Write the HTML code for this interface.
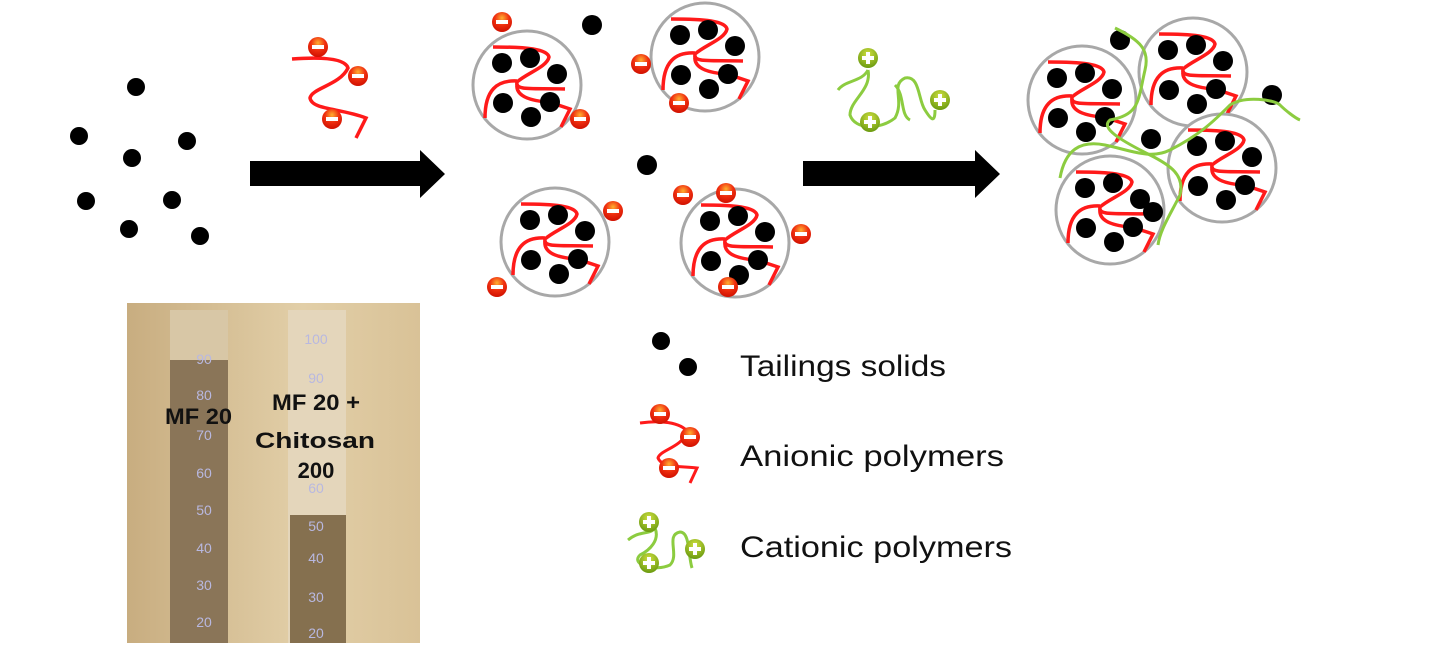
<!DOCTYPE html>
<html><head><meta charset="utf-8"><style>
html,body{margin:0;padding:0;background:#fff;width:1444px;height:659px;overflow:hidden}
</style></head><body>
<svg width="1444" height="659" viewBox="0 0 1444 659" xmlns="http://www.w3.org/2000/svg" font-family="Liberation Sans, sans-serif">
<defs>
<radialGradient id="rg" cx="50%" cy="30%" r="70%"><stop offset="0" stop-color="#ffb030"/><stop offset="0.5" stop-color="#f03010"/><stop offset="1" stop-color="#d01000"/></radialGradient>
<radialGradient id="gg" cx="50%" cy="30%" r="70%"><stop offset="0" stop-color="#d0e040"/><stop offset="1" stop-color="#6a9a10"/></radialGradient>
<g id="neg"><circle r="10" fill="url(#rg)"/><rect x="-6" y="-2" width="12" height="4" fill="#fff"/></g>
<g id="pos"><circle r="10" fill="url(#gg)"/><rect x="-6" y="-2" width="12" height="4" fill="#fff"/><rect x="-2" y="-6" width="4" height="12" fill="#fff"/></g>
<g id="cl">
<circle r="54" fill="#fff" stroke="#a8a8a8" stroke-width="3"/>
<g fill="none" stroke="#ff1a1a" stroke-width="3.5">
<path d="M-34,-38 C0,-38 20,-36 22,-28 C20,-18 0,-12 -10,-3 C-12,6 5,3 38,4"/>
<path d="M-42,33 C-42,5 -30,-5 -10,-4"/>
<path d="M-10,-1 C-12,14 10,16 25,18 L43,24 L34,42"/>
</g>
<g fill="#000"><circle cx="-25" cy="-22" r="10"/><circle cx="3" cy="-27" r="10"/><circle cx="30" cy="-11" r="10"/><circle cx="-24" cy="18" r="10"/><circle cx="23" cy="17" r="10"/><circle cx="4" cy="32" r="10"/></g>
</g>
</defs>
<rect x="0" y="0" width="1444" height="659" fill="#fff"/>
<g fill="#000"><circle cx="136" cy="87" r="9"/><circle cx="79" cy="136" r="9"/><circle cx="187" cy="141" r="9"/><circle cx="132" cy="158" r="9"/><circle cx="86" cy="201" r="9"/><circle cx="172" cy="200" r="9"/><circle cx="129" cy="229" r="9"/><circle cx="200" cy="236" r="9"/></g>
<polygon points="250,161 420,161 420,150 445,174 420,198 420,186 250,186" fill="#000"/>
<polygon points="803,161 975,161 975,150 1000,174 975,198 975,186 803,186" fill="#000"/>
<path d="M292,59 C320,57 345,58 348,68 C340,85 312,88 310,98 C312,110 340,108 366,118 L356,138" fill="none" stroke="#ff1a1a" stroke-width="3.5"/>
<use href="#neg" x="318" y="47"/><use href="#neg" x="358" y="76"/><use href="#neg" x="332" y="119"/>
<use href="#cl" x="527" y="85"/><use href="#cl" x="705" y="57"/><use href="#cl" x="555" y="242"/><use href="#cl" x="735" y="243"/>
<circle cx="592" cy="25" r="10"/><circle cx="647" cy="165" r="10"/>
<use href="#neg" x="502" y="22"/><use href="#neg" x="580" y="119"/><use href="#neg" x="641" y="64"/><use href="#neg" x="679" y="103"/>
<use href="#neg" x="613" y="211"/><use href="#neg" x="497" y="287"/><use href="#neg" x="683" y="195"/><use href="#neg" x="726" y="193"/><use href="#neg" x="801" y="234"/><use href="#neg" x="728" y="287"/>
<path d="M838,90 C845,80 862,82 868,70 M868,70 C872,90 850,100 850,115 C855,130 880,130 895,118 C905,100 890,85 905,78 C920,75 918,100 925,110 C930,118 935,125 935,110 M895,85 C905,95 900,115 910,120" fill="none" stroke="#8ccc40" stroke-width="3"/>
<use href="#pos" x="868" y="58"/><use href="#pos" x="940" y="100"/><use href="#pos" x="870" y="122"/>
<use href="#cl" x="1082" y="100"/><use href="#cl" x="1193" y="72"/><use href="#cl" x="1222" y="168"/><use href="#cl" x="1110" y="210"/>
<circle cx="1120" cy="40" r="10"/><circle cx="1272" cy="95" r="10"/><circle cx="1151" cy="139" r="10"/><circle cx="1153" cy="212" r="10"/>
<g fill="none" stroke="#8ccc40" stroke-width="3">
<path d="M1115,28 C1140,40 1150,50 1145,70 C1138,100 1140,115 1110,120 C1100,128 1120,140 1150,155 C1170,165 1185,175 1180,195 C1170,215 1160,230 1158,245"/>
<path d="M1060,178 C1065,150 1080,140 1105,145 C1130,150 1150,160 1170,150 C1200,135 1215,120 1230,105 C1245,95 1275,100 1280,105 C1285,110 1295,118 1300,120"/>
</g>
<defs><linearGradient id="bg" x1="0" y1="0" x2="1" y2="0"><stop offset="0" stop-color="#c8ad80"/><stop offset="0.6" stop-color="#e2cfa8"/><stop offset="1" stop-color="#d9c297"/></linearGradient></defs>
<rect x="127" y="303" width="293" height="340" fill="url(#bg)"/>
<rect x="170" y="310" width="58" height="333" fill="#d8c7a6"/>
<rect x="170" y="360" width="58" height="283" fill="#8a7558"/>
<rect x="288" y="310" width="58" height="333" fill="#e4d6bb"/>
<rect x="290" y="515" width="56" height="128" fill="#85704f"/>
<g fill="#b8b8e0" font-size="14" text-anchor="middle">
<text x="204" y="364">90</text><text x="204" y="400">80</text><text x="204" y="440">70</text><text x="204" y="478">60</text><text x="204" y="515">50</text><text x="204" y="553">40</text><text x="204" y="590">30</text><text x="204" y="627">20</text>
<text x="316" y="344">100</text><text x="316" y="383">90</text><text x="316" y="493">60</text><text x="316" y="531">50</text><text x="316" y="563">40</text><text x="316" y="602">30</text><text x="316" y="638">20</text>
</g>
<g fill="#111" font-size="22" font-weight="bold">
<text x="165" y="424" textLength="67" lengthAdjust="spacingAndGlyphs">MF 20</text>
<text x="272" y="410" textLength="88" lengthAdjust="spacingAndGlyphs">MF 20 +</text>
<text x="255" y="448" textLength="120" lengthAdjust="spacingAndGlyphs">Chitosan</text>
<text x="316" y="478" text-anchor="middle">200</text>
</g>
<circle cx="661" cy="341" r="9"/><circle cx="688" cy="367" r="9"/>
<path d="M640,423 C660,420 680,422 688,432 C680,448 660,450 658,458 C662,468 680,466 697,468 L690,483" fill="none" stroke="#ff1a1a" stroke-width="3"/>
<use href="#neg" x="660" y="414"/><use href="#neg" x="690" y="437"/><use href="#neg" x="669" y="468"/>
<path d="M628,540 C640,530 650,535 655,528 C660,540 650,550 640,555 C630,565 655,572 670,565 C680,555 665,535 680,532 C690,532 688,555 692,568" fill="none" stroke="#8ccc40" stroke-width="3"/>
<use href="#pos" x="649" y="522"/><use href="#pos" x="695" y="549"/><use href="#pos" x="649" y="563"/>
<g font-size="30" fill="#111">
<text x="740" y="376" textLength="206" lengthAdjust="spacingAndGlyphs">Tailings solids</text>
<text x="740" y="466" textLength="264" lengthAdjust="spacingAndGlyphs">Anionic polymers</text>
<text x="740" y="557" textLength="272" lengthAdjust="spacingAndGlyphs">Cationic polymers</text>
</g>
</svg>
</body></html>
